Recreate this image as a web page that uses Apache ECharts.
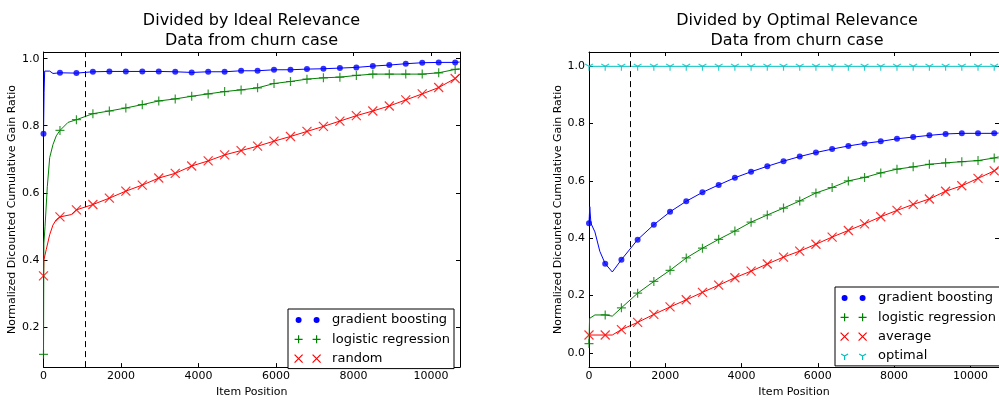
<!DOCTYPE html>
<html>
<head>
<meta charset="utf-8">
<title>NDCG ratio, churn case</title>
<script src="https://cdn.jsdelivr.net/npm/echarts@6/dist/echarts.min.js"></script>
<style>
  html, body { margin: 0; padding: 0; background: #fff; }
  #chart { width: 999px; height: 403px; }
</style>
</head>
<body>
<div id="chart"></div>
<script>
// item positions where markers are drawn (every 425 items)
const itemPos = [0, 425, 850, 1275, 1700, 2125, 2550, 2975, 3400, 3825, 4250, 4675, 5100,
  5525, 5950, 6375, 6800, 7225, 7650, 8075, 8500, 8925, 9350, 9775, 10200, 10625];
const lastItem = 10740;
const cutoffItem = 1070; // dashed vertical line

const xTicks = [0, 2000, 4000, 6000, 8000, 10000];
const idealTicks = [0.2, 0.4, 0.6, 0.8, 1.0];
const optimalTicks = [0.0, 0.2, 0.4, 0.6, 0.8, 1.0];

// --- Divided by Ideal Relevance ---
const idealBoost = [0.776, 0.958, 0.957, 0.961, 0.962, 0.962, 0.962, 0.962, 0.961, 0.959, 0.961, 0.961, 0.964,
  0.964, 0.967, 0.967, 0.969, 0.970, 0.972, 0.974, 0.978, 0.981, 0.985, 0.988, 0.989, 0.989];
const idealBoostEarly = [[15, 0.90], [30, 0.963], [160, 0.963], [245, 0.956]];
const idealBoostLast = 0.99;

const idealLogit = [0.118, 0.786, 0.818, 0.836, 0.844, 0.853, 0.863, 0.874, 0.880, 0.888, 0.895, 0.902, 0.907,
  0.913, 0.926, 0.932, 0.939, 0.943, 0.945, 0.950, 0.954, 0.954, 0.954, 0.954, 0.958, 0.968];
const idealLogitEarly = [[10, 0.45], [40, 0.50], [98, 0.618], [160, 0.705], [245, 0.744], [330, 0.77], [632, 0.81]];
const idealLogitLast = 0.97;

const idealRandom = [0.352, 0.528, 0.549, 0.565, 0.584, 0.605, 0.623, 0.644, 0.658, 0.680, 0.695, 0.713, 0.726,
  0.739, 0.754, 0.768, 0.783, 0.798, 0.814, 0.830, 0.844, 0.859, 0.877, 0.895, 0.914, 0.941];
const idealRandomEarly = [[10, 0.40], [30, 0.402], [72, 0.431], [160, 0.475], [245, 0.504], [330, 0.52], [717, 0.535]];
const idealRandomLast = 0.953;

// --- Divided by Optimal Relevance ---
const optimalBoost = [0.452, 0.311, 0.325, 0.395, 0.447, 0.492, 0.529, 0.560, 0.586, 0.611, 0.632, 0.651, 0.669,
  0.685, 0.699, 0.711, 0.722, 0.731, 0.738, 0.747, 0.753, 0.759, 0.764, 0.766, 0.766, 0.766];
const optimalBoostEarly = [[20, 0.51], [50, 0.452], [155, 0.422], [284, 0.354], [611, 0.282]];
const optimalBoostLast = 0.767;

const optimalLogit = [0.032, 0.132, 0.157, 0.208, 0.249, 0.288, 0.331, 0.365, 0.396, 0.425, 0.456, 0.481, 0.505,
  0.530, 0.558, 0.577, 0.600, 0.612, 0.628, 0.641, 0.649, 0.658, 0.663, 0.667, 0.671, 0.680];
const optimalLogitEarly = [[15, 0.12], [155, 0.132], [611, 0.128]];
const optimalLogitLast = 0.684;

const optimalAverage = [0.062, 0.062, 0.081, 0.106, 0.134, 0.160, 0.185, 0.211, 0.236, 0.262, 0.285, 0.310, 0.334,
  0.355, 0.379, 0.404, 0.427, 0.450, 0.475, 0.497, 0.518, 0.537, 0.564, 0.583, 0.609, 0.635];
const optimalAverageEarly = [[611, 0.062]];
const optimalAverageLast = 0.645;

const optimalIdeal = [1, 1, 1, 1, 1, 1, 1, 1, 1, 1, 1, 1, 1, 1, 1, 1, 1, 1, 1, 1, 1, 1, 1, 1, 1, 1];
const optimalIdealLast = 1;

const FONT = 'DejaVu Sans';
const BLUE = '#0000ff', GREEN = '#008000', RED = '#ff0000', CYAN = '#00bfbf';

// marker shapes (matplotlib o, +, x, 1)
const symDot = 'circle';
const symPlus = 'path://M0,4L8,4M4,0L4,8';
const symCross = 'path://M0,0L8,8M0,8L8,0';
const symTri = 'path://M8,8M0,0M4,4L4,8M4,4L0.54,2M4,4L7.46,2';

// legend icons: two markers side by side, box 32.5 x 8
const iconDot = 'path://M0,0M32.5,8M1,4A3,3,0,1,1,7,4A3,3,0,1,1,1,4ZM19,4A3,3,0,1,1,25,4A3,3,0,1,1,19,4Z';
const iconPlus = 'path://M0,0M32.5,8M0,4L8,4M4,0L4,8M18,4L26,4M22,0L22,8';
const iconCross = 'path://M32.5,8M0,0L8,8M0,8L8,0M18,0L26,8M18,8L26,0';
const iconTri = 'path://M0,0M32.5,8M4,4L4,8M4,4L0.54,2M4,4L7.46,2M22,4L22,8M22,4L18.54,2M22,4L25.46,2';

function curve(name, color, symbol, size, vals, early, last, grid) {
  const pts = itemPos.map((x, i) => [x, vals[i]]).concat(early);
  pts.push([lastItem, last]);
  pts.sort((a, b) => a[0] - b[0]);
  const stroked = symbol !== 'circle';
  return [
    {
      name: name, type: 'line', xAxisIndex: grid * 2, yAxisIndex: grid * 2,
      data: pts, symbol: 'none', silent: true,
      lineStyle: { color: color, width: 1 }, itemStyle: { color: color }
    },
    {
      name: name, type: 'scatter', xAxisIndex: grid * 2, yAxisIndex: grid * 2,
      data: itemPos.map((x, i) => [x, vals[i]]),
      symbol: symbol, symbolSize: size, silent: true,
      itemStyle: stroked
        ? { color: 'rgba(0,0,0,0)', borderColor: color, borderWidth: 1.2 }
        : { color: color }
    }
  ];
}

function cutoffLine() {
  return {
    silent: true, symbol: ['none', 'none'], label: { show: false },
    lineStyle: { color: '#000', type: [6, 4], width: 1 },
    data: [{ xAxis: cutoffItem }]
  };
}

function xAxisFor(grid, top) {
  return {
    type: 'value', gridIndex: grid, position: top ? 'top' : 'bottom',
    min: 0, max: 10750,
    axisLine: { show: true, onZero: false, lineStyle: { color: '#000', width: 1 } },
    axisTick: { show: true, inside: true, length: 4, customValues: xTicks, lineStyle: { color: '#000' } },
    axisLabel: {
      show: !top, customValues: xTicks, margin: 4, color: '#000', fontSize: 11, fontFamily: FONT,
      formatter: v => String(v)
    },
    splitLine: { show: false },
    name: top ? '' : 'Item Position', nameLocation: 'middle', nameGap: 19,
    nameTextStyle: { color: '#000', fontSize: 11, fontFamily: FONT }
  };
}

function yAxisFor(grid, right, min, max, ticks) {
  return {
    type: 'value', gridIndex: grid, position: right ? 'right' : 'left',
    min: min, max: max,
    axisLine: { show: true, onZero: false, lineStyle: { color: '#000', width: 1 } },
    axisTick: { show: true, inside: true, length: 4, customValues: ticks, lineStyle: { color: '#000' } },
    axisLabel: {
      show: !right, customValues: ticks, margin: 4, color: '#000', fontSize: 11, fontFamily: FONT,
      formatter: v => v.toFixed(1)
    },
    splitLine: { show: false },
    name: right ? '' : 'Normalized Dicounted Cumulative Gain Ratio',
    nameLocation: 'middle', nameGap: 22,
    nameTextStyle: { color: '#000', fontSize: 11, fontFamily: FONT }
  };
}

function legendFor(left, top, padding, items) {
  return {
    orient: 'vertical', left: left, top: top, padding: padding,
    itemWidth: 32.5, itemHeight: 8, itemGap: 5.3,
    backgroundColor: '#fff', borderColor: '#000', borderWidth: 1, borderRadius: 0,
    selectedMode: false, z: 10,
    textStyle: { color: '#000', fontSize: 13, fontFamily: FONT, lineHeight: 14 },
    data: items
  };
}

const leftSeries = [].concat(
  curve('gradient boosting', BLUE, symDot, 6, idealBoost, idealBoostEarly, idealBoostLast, 0),
  curve('logistic regression', GREEN, symPlus, 9, idealLogit, idealLogitEarly, idealLogitLast, 0),
  curve('random', RED, symCross, 9, idealRandom, idealRandomEarly, idealRandomLast, 0)
);
leftSeries[0].markLine = cutoffLine();

const rightSeries = [].concat(
  curve('gradient boosting', BLUE, symDot, 6, optimalBoost, optimalBoostEarly, optimalBoostLast, 1),
  curve('logistic regression', GREEN, symPlus, 9, optimalLogit, optimalLogitEarly, optimalLogitLast, 1),
  curve('average', RED, symCross, 9, optimalAverage, optimalAverageEarly, optimalAverageLast, 1),
  curve('optimal', CYAN, symTri, 9, optimalIdeal, [], optimalIdealLast, 1)
);
rightSeries[0].markLine = cutoffLine();

const dotStyle = c => ({ color: c, borderWidth: 0 });
const lineIcon = c => ({ color: 'rgba(0,0,0,0)', borderColor: c, borderWidth: 1.2 });

const chart = echarts.init(document.getElementById('chart'));
const option = {
  animation: false,
  backgroundColor: '#fff',
  title: [
    {
      text: 'Divided by Ideal Relevance\nData from churn case', left: 251.5, top: 11, textAlign: 'center',
      padding: 0, textStyle: { color: '#000', fontSize: 16, fontWeight: 'normal', lineHeight: 20, fontFamily: FONT }
    },
    {
      text: 'Divided by Optimal Relevance\nData from churn case', left: 797, top: 11, textAlign: 'center',
      padding: 0, textStyle: { color: '#000', fontSize: 16, fontWeight: 'normal', lineHeight: 20, fontFamily: FONT }
    }
  ],
  grid: [
    { left: 43.5, top: 52, width: 416.5, height: 322 },
    { left: 589, top: 52, width: 417, height: 322 }
  ],
  xAxis: [xAxisFor(0, false), xAxisFor(0, true), xAxisFor(1, false), xAxisFor(1, true)],
  yAxis: [
    yAxisFor(0, false, 0.08, 1.02, idealTicks), yAxisFor(0, true, 0.08, 1.02, idealTicks),
    yAxisFor(1, false, -0.05, 1.05, optimalTicks), yAxisFor(1, true, -0.05, 1.05, optimalTicks)
  ],
  legend: [
    legendFor(288, 309, [4, 4, 3, 6], [
      { name: 'gradient boosting', icon: iconDot, itemStyle: dotStyle(BLUE) },
      { name: 'logistic regression', icon: iconPlus, itemStyle: lineIcon(GREEN) },
      { name: 'random', icon: iconCross, itemStyle: lineIcon(RED) }
    ]),
    legendFor(835, 287, [4, 4, 3, 5], [
      { name: 'gradient boosting', icon: iconDot, itemStyle: dotStyle(BLUE) },
      { name: 'logistic regression', icon: iconPlus, itemStyle: lineIcon(GREEN) },
      { name: 'average', icon: iconCross, itemStyle: lineIcon(RED) },
      { name: 'optimal', icon: iconTri, itemStyle: lineIcon(CYAN) }
    ])
  ],
  series: leftSeries.concat(rightSeries)
};
chart.setOption(option);
window.onresize = chart.resize;
</script>
</body>
</html>
